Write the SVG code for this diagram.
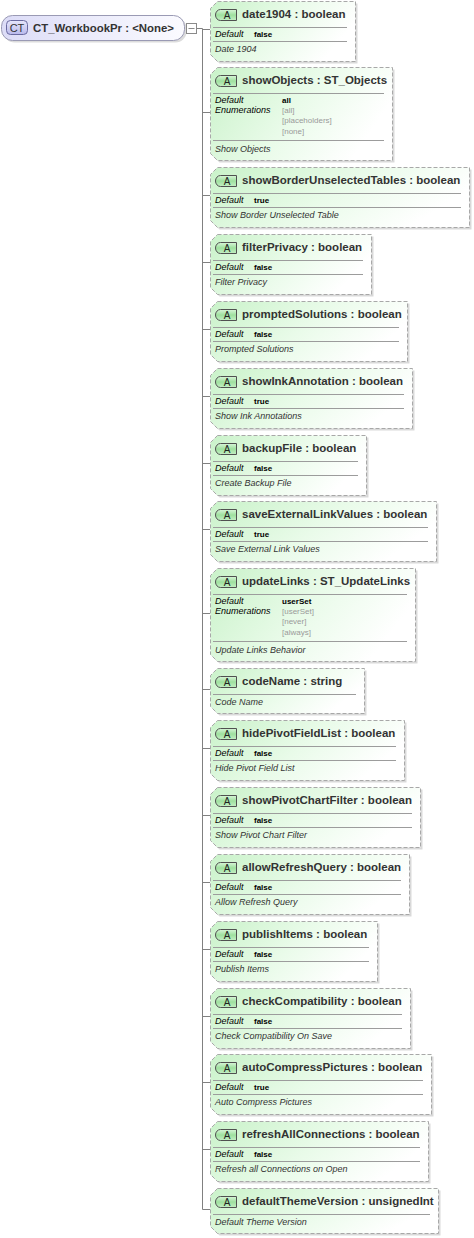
<svg xmlns="http://www.w3.org/2000/svg" width="474" height="1238" viewBox="0 0 474 1238">
<defs>
<linearGradient id="gg" x1="0" y1="0" x2="1" y2="0.35">
<stop offset="0" stop-color="#c9f2c9"/>
<stop offset="0.55" stop-color="#e9fbe9"/>
<stop offset="1" stop-color="#ffffff"/>
</linearGradient>
<linearGradient id="bg" x1="0" y1="0" x2="0" y2="1">
<stop offset="0" stop-color="#d8f5d8"/>
<stop offset="0.5" stop-color="#9ee09e"/>
<stop offset="1" stop-color="#c4efc4"/>
</linearGradient>
<linearGradient id="cg" x1="0" y1="0" x2="1" y2="0">
<stop offset="0" stop-color="#dcdcf7"/>
<stop offset="1" stop-color="#fbfbff"/>
</linearGradient>
<linearGradient id="cb" x1="0" y1="0" x2="0" y2="1">
<stop offset="0" stop-color="#e6e6fb"/>
<stop offset="1" stop-color="#b9b9ec"/>
</linearGradient>
</defs>
<style>
.box{fill:url(#gg);stroke:#a8a8a8;stroke-width:1;stroke-dasharray:4 2}
.sh{fill:#d9d9d9}
.sep{stroke:#9c9c9c;stroke-width:1}
.hdr{font:bold 11.5px "Liberation Sans",Arial,sans-serif;fill:#333}
.lbl{font:italic 9px "Liberation Sans",Arial,sans-serif;fill:#000}
.val{font:bold 8px "Liberation Sans",Arial,sans-serif;fill:#000}
.enm{font:8px "Liberation Sans",Arial,sans-serif;fill:#9a9a9a}
.dsc{font:italic 9px "Liberation Sans",Arial,sans-serif;fill:#333}
.bdg{fill:url(#bg);stroke:#505050;stroke-width:1}
.btx{font:10px "Liberation Sans",Arial,sans-serif;fill:#222;text-anchor:middle}
.conn{stroke:#808080;stroke-width:1;fill:none}
.ct{fill:url(#cg);stroke:#9a9ab4;stroke-width:1}
.ctb{fill:url(#cb);stroke:#6a6aa0;stroke-width:1}
.cttx{font:bold 11.4px "Liberation Sans",Arial,sans-serif;fill:#333}
.ctbt{font:11px "Liberation Sans",Arial,sans-serif;fill:#333}
</style>

<g id="connectors">
<path class="conn" d="M197,28.5 H202.5 M202.5,28.5 V1209.5"/>
<path class="conn" d="M202.5,29.5 H210 M202.5,112.5 H210 M202.5,195.5 H210 M202.5,262.5 H210 M202.5,329.5 H210 M202.5,396.5 H210 M202.5,463.5 H210 M202.5,529.5 H210 M202.5,613.5 H210 M202.5,689.5 H210 M202.5,748.5 H210 M202.5,815.5 H210 M202.5,882.5 H210 M202.5,949.5 H210 M202.5,1016.5 H210 M202.5,1082.5 H210 M202.5,1149.5 H210 M202.5,1209.5 H210"/>
</g>

<g id="CT_WorkbookPr">
<rect x="3.5" y="17.5" width="183" height="25" rx="11" fill="#dcdcdc"/>
<rect class="ct" x="1.5" y="15.5" width="183" height="25" rx="11"/>
<rect class="ctb" x="6.5" y="20.5" width="21" height="14" rx="4"/>
<text class="ctbt" x="17" y="31.5" text-anchor="middle">CT</text>
<text class="cttx" x="33" y="31.5">CT_WorkbookPr : &lt;None&gt;</text>
<rect x="186.5" y="23.5" width="10" height="10" fill="#fff" stroke="#8a8a8a"/>
<path d="M188.5,28.5 H194.5" stroke="#8a8a8a"/>
</g>

<g id="date1904" transform="translate(0,1)">
<path class="sh" d="M219.5,2.5 H357.5 V62.5 H219.5 L212.5,55.5 V9.5 Z"/>
<path class="box" d="M217.5,0.5 H355.5 V60.5 H217.5 L210.5,53.5 V7.5 Z"/>
<path class="bdg" d="M220.5,8.5 H236.5 V19.5 H220.5 A5,5.5 0 0 1 220.5,8.5 Z"/>
<text class="btx" x="227" y="17.5">A</text>
<text class="hdr" x="242" y="17">date1904 : boolean</text>
<path class="sep" d="M213,26.5 H347 M213,40.5 H347"/>
<text class="lbl" x="215" y="36">Default</text><text class="val" x="254" y="35.5">false</text>
<text class="dsc" x="215" y="51">Date 1904</text>
</g>

<g id="showObjects" transform="translate(0,67)">
<path class="sh" d="M219.5,2.5 H394.5 V95.5 H219.5 L212.5,88.5 V9.5 Z"/>
<path class="box" d="M217.5,0.5 H392.5 V93.5 H217.5 L210.5,86.5 V7.5 Z"/>
<path class="bdg" d="M220.5,8.5 H236.5 V19.5 H220.5 A5,5.5 0 0 1 220.5,8.5 Z"/>
<text class="btx" x="227" y="17.5">A</text>
<text class="hdr" x="242" y="17">showObjects : ST_Objects</text>
<path class="sep" d="M213,26.5 H384 M213,73.5 H384"/>
<text class="lbl" x="215" y="36">Default</text><text class="val" x="282" y="35.5">all</text>
<text class="lbl" x="215" y="45.5">Enumerations</text>
<text class="enm" x="282" y="45.5">[all]</text>
<text class="enm" x="282" y="56">[placeholders]</text>
<text class="enm" x="282" y="66.5">[none]</text>
<text class="dsc" x="215" y="84.5">Show Objects</text>
</g>

<g id="showBorderUnselectedTables" transform="translate(0,167)">
<path class="sh" d="M219.5,2.5 H471.5 V62.5 H219.5 L212.5,55.5 V9.5 Z"/>
<path class="box" d="M217.5,0.5 H469.5 V60.5 H217.5 L210.5,53.5 V7.5 Z"/>
<path class="bdg" d="M220.5,8.5 H236.5 V19.5 H220.5 A5,5.5 0 0 1 220.5,8.5 Z"/>
<text class="btx" x="227" y="17.5">A</text>
<text class="hdr" x="242" y="17">showBorderUnselectedTables : boolean</text>
<path class="sep" d="M213,26.5 H461 M213,40.5 H461"/>
<text class="lbl" x="215" y="36">Default</text><text class="val" x="254" y="35.5">true</text>
<text class="dsc" x="215" y="51">Show Border Unselected Table</text>
</g>

<g id="filterPrivacy" transform="translate(0,234)">
<path class="sh" d="M219.5,2.5 H373.5 V62.5 H219.5 L212.5,55.5 V9.5 Z"/>
<path class="box" d="M217.5,0.5 H371.5 V60.5 H217.5 L210.5,53.5 V7.5 Z"/>
<path class="bdg" d="M220.5,8.5 H236.5 V19.5 H220.5 A5,5.5 0 0 1 220.5,8.5 Z"/>
<text class="btx" x="227" y="17.5">A</text>
<text class="hdr" x="242" y="17">filterPrivacy : boolean</text>
<path class="sep" d="M213,26.5 H363 M213,40.5 H363"/>
<text class="lbl" x="215" y="36">Default</text><text class="val" x="254" y="35.5">false</text>
<text class="dsc" x="215" y="51">Filter Privacy</text>
</g>

<g id="promptedSolutions" transform="translate(0,301)">
<path class="sh" d="M219.5,2.5 H409.5 V62.5 H219.5 L212.5,55.5 V9.5 Z"/>
<path class="box" d="M217.5,0.5 H407.5 V60.5 H217.5 L210.5,53.5 V7.5 Z"/>
<path class="bdg" d="M220.5,8.5 H236.5 V19.5 H220.5 A5,5.5 0 0 1 220.5,8.5 Z"/>
<text class="btx" x="227" y="17.5">A</text>
<text class="hdr" x="242" y="17">promptedSolutions : boolean</text>
<path class="sep" d="M213,26.5 H399 M213,40.5 H399"/>
<text class="lbl" x="215" y="36">Default</text><text class="val" x="254" y="35.5">false</text>
<text class="dsc" x="215" y="51">Prompted Solutions</text>
</g>

<g id="showInkAnnotation" transform="translate(0,368)">
<path class="sh" d="M219.5,2.5 H414.5 V62.5 H219.5 L212.5,55.5 V9.5 Z"/>
<path class="box" d="M217.5,0.5 H412.5 V60.5 H217.5 L210.5,53.5 V7.5 Z"/>
<path class="bdg" d="M220.5,8.5 H236.5 V19.5 H220.5 A5,5.5 0 0 1 220.5,8.5 Z"/>
<text class="btx" x="227" y="17.5">A</text>
<text class="hdr" x="242" y="17">showInkAnnotation : boolean</text>
<path class="sep" d="M213,26.5 H404 M213,40.5 H404"/>
<text class="lbl" x="215" y="36">Default</text><text class="val" x="254" y="35.5">true</text>
<text class="dsc" x="215" y="51">Show Ink Annotations</text>
</g>

<g id="backupFile" transform="translate(0,435)">
<path class="sh" d="M219.5,2.5 H368.5 V62.5 H219.5 L212.5,55.5 V9.5 Z"/>
<path class="box" d="M217.5,0.5 H366.5 V60.5 H217.5 L210.5,53.5 V7.5 Z"/>
<path class="bdg" d="M220.5,8.5 H236.5 V19.5 H220.5 A5,5.5 0 0 1 220.5,8.5 Z"/>
<text class="btx" x="227" y="17.5">A</text>
<text class="hdr" x="242" y="17">backupFile : boolean</text>
<path class="sep" d="M213,26.5 H358 M213,40.5 H358"/>
<text class="lbl" x="215" y="36">Default</text><text class="val" x="254" y="35.5">false</text>
<text class="dsc" x="215" y="51">Create Backup File</text>
</g>

<g id="saveExternalLinkValues" transform="translate(0,501)">
<path class="sh" d="M219.5,2.5 H438.5 V62.5 H219.5 L212.5,55.5 V9.5 Z"/>
<path class="box" d="M217.5,0.5 H436.5 V60.5 H217.5 L210.5,53.5 V7.5 Z"/>
<path class="bdg" d="M220.5,8.5 H236.5 V19.5 H220.5 A5,5.5 0 0 1 220.5,8.5 Z"/>
<text class="btx" x="227" y="17.5">A</text>
<text class="hdr" x="242" y="17">saveExternalLinkValues : boolean</text>
<path class="sep" d="M213,26.5 H428 M213,40.5 H428"/>
<text class="lbl" x="215" y="36">Default</text><text class="val" x="254" y="35.5">true</text>
<text class="dsc" x="215" y="51">Save External Link Values</text>
</g>

<g id="updateLinks" transform="translate(0,568)">
<path class="sh" d="M219.5,2.5 H417.5 V95.5 H219.5 L212.5,88.5 V9.5 Z"/>
<path class="box" d="M217.5,0.5 H415.5 V93.5 H217.5 L210.5,86.5 V7.5 Z"/>
<path class="bdg" d="M220.5,8.5 H236.5 V19.5 H220.5 A5,5.5 0 0 1 220.5,8.5 Z"/>
<text class="btx" x="227" y="17.5">A</text>
<text class="hdr" x="242" y="17">updateLinks : ST_UpdateLinks</text>
<path class="sep" d="M213,26.5 H407 M213,73.5 H407"/>
<text class="lbl" x="215" y="36">Default</text><text class="val" x="282" y="35.5">userSet</text>
<text class="lbl" x="215" y="45.5">Enumerations</text>
<text class="enm" x="282" y="45.5">[userSet]</text>
<text class="enm" x="282" y="56">[never]</text>
<text class="enm" x="282" y="66.5">[always]</text>
<text class="dsc" x="215" y="84.5">Update Links Behavior</text>
</g>

<g id="codeName" transform="translate(0,668)">
<path class="sh" d="M219.5,2.5 H366.5 V47.5 H219.5 L212.5,40.5 V9.5 Z"/>
<path class="box" d="M217.5,0.5 H364.5 V45.5 H217.5 L210.5,38.5 V7.5 Z"/>
<path class="bdg" d="M220.5,8.5 H236.5 V19.5 H220.5 A5,5.5 0 0 1 220.5,8.5 Z"/>
<text class="btx" x="227" y="17.5">A</text>
<text class="hdr" x="242" y="17">codeName : string</text>
<path class="sep" d="M213,26.5 H356"/>
<text class="dsc" x="215" y="37">Code Name</text>
</g>

<g id="hidePivotFieldList" transform="translate(0,720)">
<path class="sh" d="M219.5,2.5 H406.5 V62.5 H219.5 L212.5,55.5 V9.5 Z"/>
<path class="box" d="M217.5,0.5 H404.5 V60.5 H217.5 L210.5,53.5 V7.5 Z"/>
<path class="bdg" d="M220.5,8.5 H236.5 V19.5 H220.5 A5,5.5 0 0 1 220.5,8.5 Z"/>
<text class="btx" x="227" y="17.5">A</text>
<text class="hdr" x="242" y="17">hidePivotFieldList : boolean</text>
<path class="sep" d="M213,26.5 H396 M213,40.5 H396"/>
<text class="lbl" x="215" y="36">Default</text><text class="val" x="254" y="35.5">false</text>
<text class="dsc" x="215" y="51">Hide Pivot Field List</text>
</g>

<g id="showPivotChartFilter" transform="translate(0,787)">
<path class="sh" d="M219.5,2.5 H422.5 V62.5 H219.5 L212.5,55.5 V9.5 Z"/>
<path class="box" d="M217.5,0.5 H420.5 V60.5 H217.5 L210.5,53.5 V7.5 Z"/>
<path class="bdg" d="M220.5,8.5 H236.5 V19.5 H220.5 A5,5.5 0 0 1 220.5,8.5 Z"/>
<text class="btx" x="227" y="17.5">A</text>
<text class="hdr" x="242" y="17">showPivotChartFilter : boolean</text>
<path class="sep" d="M213,26.5 H412 M213,40.5 H412"/>
<text class="lbl" x="215" y="36">Default</text><text class="val" x="254" y="35.5">false</text>
<text class="dsc" x="215" y="51">Show Pivot Chart Filter</text>
</g>

<g id="allowRefreshQuery" transform="translate(0,854)">
<path class="sh" d="M219.5,2.5 H411.5 V62.5 H219.5 L212.5,55.5 V9.5 Z"/>
<path class="box" d="M217.5,0.5 H409.5 V60.5 H217.5 L210.5,53.5 V7.5 Z"/>
<path class="bdg" d="M220.5,8.5 H236.5 V19.5 H220.5 A5,5.5 0 0 1 220.5,8.5 Z"/>
<text class="btx" x="227" y="17.5">A</text>
<text class="hdr" x="242" y="17">allowRefreshQuery : boolean</text>
<path class="sep" d="M213,26.5 H401 M213,40.5 H401"/>
<text class="lbl" x="215" y="36">Default</text><text class="val" x="254" y="35.5">false</text>
<text class="dsc" x="215" y="51">Allow Refresh Query</text>
</g>

<g id="publishItems" transform="translate(0,921)">
<path class="sh" d="M219.5,2.5 H379.5 V62.5 H219.5 L212.5,55.5 V9.5 Z"/>
<path class="box" d="M217.5,0.5 H377.5 V60.5 H217.5 L210.5,53.5 V7.5 Z"/>
<path class="bdg" d="M220.5,8.5 H236.5 V19.5 H220.5 A5,5.5 0 0 1 220.5,8.5 Z"/>
<text class="btx" x="227" y="17.5">A</text>
<text class="hdr" x="242" y="17">publishItems : boolean</text>
<path class="sep" d="M213,26.5 H369 M213,40.5 H369"/>
<text class="lbl" x="215" y="36">Default</text><text class="val" x="254" y="35.5">false</text>
<text class="dsc" x="215" y="51">Publish Items</text>
</g>

<g id="checkCompatibility" transform="translate(0,988)">
<path class="sh" d="M219.5,2.5 H412.5 V62.5 H219.5 L212.5,55.5 V9.5 Z"/>
<path class="box" d="M217.5,0.5 H410.5 V60.5 H217.5 L210.5,53.5 V7.5 Z"/>
<path class="bdg" d="M220.5,8.5 H236.5 V19.5 H220.5 A5,5.5 0 0 1 220.5,8.5 Z"/>
<text class="btx" x="227" y="17.5">A</text>
<text class="hdr" x="242" y="17">checkCompatibility : boolean</text>
<path class="sep" d="M213,26.5 H402 M213,40.5 H402"/>
<text class="lbl" x="215" y="36">Default</text><text class="val" x="254" y="35.5">false</text>
<text class="dsc" x="215" y="51">Check Compatibility On Save</text>
</g>

<g id="autoCompressPictures" transform="translate(0,1054)">
<path class="sh" d="M219.5,2.5 H433.5 V62.5 H219.5 L212.5,55.5 V9.5 Z"/>
<path class="box" d="M217.5,0.5 H431.5 V60.5 H217.5 L210.5,53.5 V7.5 Z"/>
<path class="bdg" d="M220.5,8.5 H236.5 V19.5 H220.5 A5,5.5 0 0 1 220.5,8.5 Z"/>
<text class="btx" x="227" y="17.5">A</text>
<text class="hdr" x="242" y="17">autoCompressPictures : boolean</text>
<path class="sep" d="M213,26.5 H423 M213,40.5 H423"/>
<text class="lbl" x="215" y="36">Default</text><text class="val" x="254" y="35.5">true</text>
<text class="dsc" x="215" y="51">Auto Compress Pictures</text>
</g>

<g id="refreshAllConnections" transform="translate(0,1121)">
<path class="sh" d="M219.5,2.5 H430.5 V62.5 H219.5 L212.5,55.5 V9.5 Z"/>
<path class="box" d="M217.5,0.5 H428.5 V60.5 H217.5 L210.5,53.5 V7.5 Z"/>
<path class="bdg" d="M220.5,8.5 H236.5 V19.5 H220.5 A5,5.5 0 0 1 220.5,8.5 Z"/>
<text class="btx" x="227" y="17.5">A</text>
<text class="hdr" x="242" y="17">refreshAllConnections : boolean</text>
<path class="sep" d="M213,26.5 H420 M213,40.5 H420"/>
<text class="lbl" x="215" y="36">Default</text><text class="val" x="254" y="35.5">false</text>
<text class="dsc" x="215" y="51">Refresh all Connections on Open</text>
</g>

<g id="defaultThemeVersion" transform="translate(0,1188)">
<path class="sh" d="M219.5,2.5 H440.5 V47.5 H219.5 L212.5,40.5 V9.5 Z"/>
<path class="box" d="M217.5,0.5 H438.5 V45.5 H217.5 L210.5,38.5 V7.5 Z"/>
<path class="bdg" d="M220.5,8.5 H236.5 V19.5 H220.5 A5,5.5 0 0 1 220.5,8.5 Z"/>
<text class="btx" x="227" y="17.5">A</text>
<text class="hdr" x="242" y="17">defaultThemeVersion : unsignedInt</text>
<path class="sep" d="M213,26.5 H430"/>
<text class="dsc" x="215" y="37">Default Theme Version</text>
</g>
</svg>
